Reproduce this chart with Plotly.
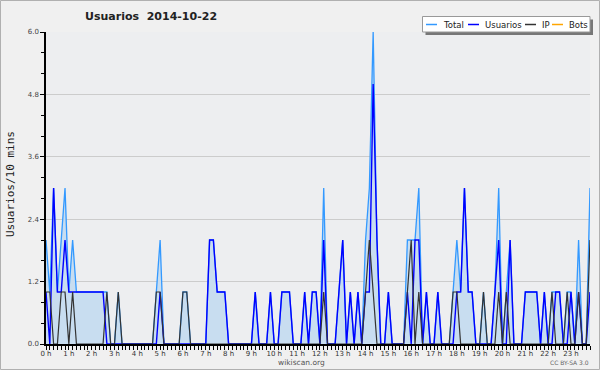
import plotly.graph_objects as go

# ---- data (10-minute slots, 144 per day) ----
slots = list(range(144))

usuarios = [1, 0, 3, 1, 1, 2, 1, 1, 1, 1, 1, 1, 1, 1, 1, 1, 0, 0, 0, 0,
            0, 0, 0, 0, 0, 0, 0, 0, 0, 0, 1, 0, 0, 0, 0, 0, 0, 0, 0, 0,
            0, 0, 0, 2, 2, 1, 1, 1, 0, 0, 0, 0, 0, 0, 0, 1, 0, 0, 0, 1,
            0, 0, 1, 1, 1, 0, 0, 0, 1, 0, 1, 1, 0, 2, 0, 0, 0, 1, 2, 0,
            1, 0, 1, 0, 1, 1, 5, 2, 0, 0, 1, 0, 0, 0, 0, 1, 0, 2, 2, 0,
            1, 0, 0, 1, 0, 0, 0, 0, 1, 1, 3, 1, 1, 0, 0, 0, 0, 0, 1, 2,
            0, 0, 2, 0, 0, 0, 1, 1, 1, 1, 0, 1, 0, 0, 1, 1, 0, 0, 1, 0,
            1, 0, 0, 1]

ip = [1, 1, 0, 0, 1, 1, 0, 1, 0, 0, 0, 0, 0, 0, 0, 0, 1, 0, 0, 1,
      0, 0, 0, 0, 0, 0, 0, 0, 0, 1, 1, 0, 0, 0, 0, 0, 1, 1, 0, 0,
      0, 0, 0, 0, 0, 0, 0, 0, 0, 0, 0, 0, 0, 0, 0, 0, 0, 0, 0, 0,
      0, 0, 0, 0, 0, 0, 0, 0, 0, 0, 0, 0, 0, 1, 0, 0, 0, 0, 0, 0,
      0, 0, 0, 0, 1, 2, 1, 0, 0, 0, 0, 0, 0, 0, 0, 1, 2, 0, 1, 0,
      0, 0, 0, 0, 0, 0, 0, 1, 1, 0, 0, 0, 0, 0, 0, 1, 0, 0, 0, 1,
      0, 1, 0, 0, 0, 0, 0, 0, 0, 0, 0, 0, 0, 1, 0, 0, 0, 1, 0, 0,
      1, 0, 0, 2]

total = [2, 1, 3, 1, 2, 3, 1, 2, 1, 1, 1, 1, 1, 1, 1, 1, 1, 0, 0, 1,
         0, 0, 0, 0, 0, 0, 0, 0, 0, 1, 2, 0, 0, 0, 0, 0, 1, 1, 0, 0,
         0, 0, 0, 2, 2, 1, 1, 1, 0, 0, 0, 0, 0, 0, 0, 1, 0, 0, 0, 1,
         0, 0, 1, 1, 1, 0, 0, 0, 1, 0, 1, 1, 0, 3, 0, 0, 0, 1, 2, 0,
         1, 0, 1, 0, 2, 3, 6, 2, 0, 0, 1, 0, 0, 0, 0, 2, 2, 2, 3, 0,
         1, 0, 0, 1, 0, 0, 0, 1, 2, 1, 3, 1, 1, 0, 0, 1, 0, 0, 1, 3,
         0, 1, 2, 0, 0, 0, 1, 1, 1, 1, 0, 1, 0, 1, 1, 1, 0, 1, 1, 0,
         2, 0, 0, 3]

hour_slots = [0, 6, 12, 18, 24, 30, 36, 42, 48, 54, 60, 66, 72, 78, 84, 90,
              96, 102, 108, 114, 120, 126, 132, 138]
hour_labels = ["0 h", "1 h", "2 h", "3 h", "4 h", "5 h", "6 h", "7 h", "8 h",
               "9 h", "10 h", "11 h", "12 h", "13 h", "14 h", "15 h", "16 h",
               "17 h", "18 h", "19 h", "20 h", "21 h", "22 h", "23 h"]
y_ticks = [0.0, 1.2, 2.4, 3.6, 4.8, 6.0]

series_names = ["Total", "Usuarios", "IP", "Bots"]
series_colors = ["#3399FF", "#0000FF", "#333333", "#FFA500"]

# ---- geometry helpers (pixel -> paper) ----
W, H = 600, 370
ML, MR, MT, MB = 46, 10, 32, 26
PW, PH = W - ML - MR, H - MT - MB


def px(x):
    return (x - ML) / PW


def py(y):
    return (H - MB - y) / PH


fig = go.Figure()
fig.add_trace(go.Scatter(x=slots, y=total, mode="lines", name="Total",
                         line=dict(color=series_colors[0], width=1.3),
                         fill="tozeroy", fillcolor="#C8DDF0"))
fig.add_trace(go.Scatter(x=slots, y=usuarios, mode="lines", name="Usuarios",
                         line=dict(color=series_colors[1], width=1.4)))
fig.add_trace(go.Scatter(x=slots, y=ip, mode="lines", name="IP",
                         line=dict(color=series_colors[2], width=1.2)))

tickfont = dict(family="DejaVu Sans", size=7, color="#333333")

fig.update_layout(
    width=W, height=H,
    margin=dict(l=ML, r=MR, t=MT, b=MB, pad=0),
    paper_bgcolor="#F0F0F0",
    plot_bgcolor="#EDEEF0",
    showlegend=False,
    xaxis=dict(range=[0, 143], tickmode="array", tickvals=hour_slots,
               ticktext=hour_labels, ticks="outside", ticklen=4,
               tickcolor="black", tickwidth=1, showline=True,
               linecolor="black", linewidth=1.5, showgrid=False,
               zeroline=False, tickfont=tickfont, ticklabelstandoff=-2,
               minor=dict(dtick=1, tick0=0, ticks="outside", ticklen=4,
                          tickcolor="black", tickwidth=1, showgrid=False)),
    yaxis=dict(range=[0, 6], tickmode="array", tickvals=y_ticks,
               ticktext=[f"{v:.1f}" for v in y_ticks], ticks="outside",
               ticklen=4, tickcolor="black", showline=True,
               linecolor="black", linewidth=1.5, showgrid=True,
               gridcolor="#CCCCCC", gridwidth=1, zeroline=False,
               tickfont=dict(family="DejaVu Sans", size=7, color="#444444"),
               minor=dict(dtick=0.4, tick0=0, ticks="outside", ticklen=3,
                          tickcolor="black", showgrid=False)),
)

shapes = []
annotations = []

# outer frame
shapes.append(dict(type="rect", xref="paper", yref="paper",
                   x0=px(0.5), x1=px(599.5), y0=py(0.5), y1=py(369.5),
                   line=dict(color="#B0B0B0", width=1), fillcolor="rgba(0,0,0,0)",
                   layer="above"))

# legend box with shadow
shapes.append(dict(type="rect", xref="paper", yref="paper",
                   x0=px(425.5), x1=px(593), y0=py(19.5), y1=py(35),
                   line=dict(width=0), fillcolor="#777777", layer="above"))
shapes.append(dict(type="rect", xref="paper", yref="paper",
                   x0=px(422.5), x1=px(590), y0=py(16.5), y1=py(32),
                   line=dict(color="#999999", width=1), fillcolor="white",
                   layer="above"))
legend_line_x = [426, 468, 525, 552]
legend_text_x = [441, 483, 540, 567]
for name, col, lx, tx in zip(series_names, series_colors, legend_line_x, legend_text_x):
    shapes.append(dict(type="line", xref="paper", yref="paper",
                       x0=px(lx), x1=px(lx + 11), y0=py(24.5), y1=py(24.5),
                       line=dict(color=col, width=1.5), layer="above"))
    annotations.append(dict(text=name, xref="paper", yref="paper",
                            x=px(tx), y=py(24.5), xanchor="left", yanchor="middle",
                            showarrow=False,
                            font=dict(family="DejaVu Sans", size=8.5, color="#222222")))

# title
annotations.append(dict(text="<b>Usuarios\u00a0\u00a02014-10-22</b>", xref="paper",
                        yref="paper", x=px(151), y=py(16.5), xanchor="center",
                        yanchor="middle", showarrow=False,
                        font=dict(family="DejaVu Sans", size=11, color="#222222")))
# y-axis title
annotations.append(dict(text="Usuarios/10 mins", xref="paper", yref="paper",
                        x=px(10), y=py(184), xanchor="center", yanchor="middle",
                        textangle=-90, showarrow=False,
                        font=dict(family="DejaVu Sans Mono", size=11, color="#222222")))
# footer texts
annotations.append(dict(text="wikiscan.org", xref="paper", yref="paper",
                        x=px(301), y=py(362), xanchor="center", yanchor="middle",
                        showarrow=False,
                        font=dict(family="DejaVu Sans", size=7.5, color="#555555")))
annotations.append(dict(text="CC BY-SA 3.0", xref="paper", yref="paper",
                        x=px(569), y=py(362), xanchor="center", yanchor="middle",
                        showarrow=False,
                        font=dict(family="DejaVu Sans", size=6, color="#666666")))

fig.update_layout(shapes=shapes, annotations=annotations)
fig.write_html("out.html", config={"displayModeBar": False},
               post_script="document.body.style.margin='0';document.body.style.padding='0';")
